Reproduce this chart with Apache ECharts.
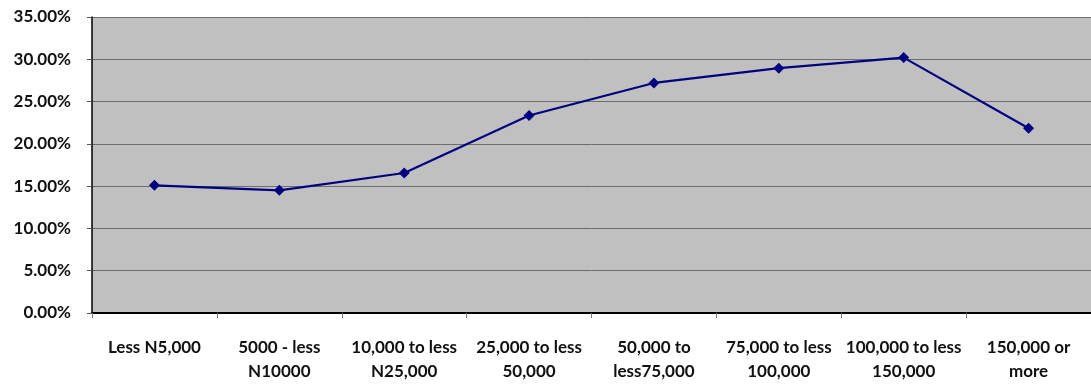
<!DOCTYPE html>
<html>
<head>
<meta charset="utf-8">
<style>
  html, body { margin: 0; padding: 0; background: #ffffff; }
  #chart { width: 1091px; height: 384px; }
</style>
<script src="https://cdn.jsdelivr.net/npm/echarts@6/dist/echarts.min.js"></script>
</head>
<body>
<div id="chart"></div>
<script>
// Income bands (two-line labels)
const categories = [
  'Less N5,000',
  '5000 - less\nN10000',
  '10,000 to less\nN25,000',
  '25,000 to less\n50,000',
  '50,000 to\nless75,000',
  '75,000 to less\n100,000',
  '100,000 to less\n150,000',
  '150,000 or\nmore'
];

// Share per band, in percent
const shares = [15.1, 14.5, 16.55, 23.35, 27.2, 28.95, 30.2, 21.85];

// Value axis range and step, in percent
const yMin = 0;
const yMax = 35;
const yStep = 5;

const labelFont = { fontFamily: 'Lato', fontWeight: 'bold', fontSize: 17, color: '#111111' };

const chart = echarts.init(document.getElementById('chart'), null, { renderer: 'canvas' });

chart.setOption({
  animation: false,
  backgroundColor: '#ffffff',
  grid: {
    left: 92,
    right: -4,
    top: 17,
    bottom: 70,
    show: true,
    backgroundColor: '#c0c0c0',
    borderWidth: 0
  },
  xAxis: {
    type: 'category',
    data: categories,
    boundaryGap: true,
    axisLine: { show: true, lineStyle: { color: '#000000', width: 2 } },
    axisTick: { show: true, length: 5, alignWithLabel: false, lineStyle: { color: '#777777', width: 1 } },
    axisLabel: Object.assign({}, labelFont, { margin: 23, lineHeight: 24, interval: 0, align: 'center' }),
    splitLine: { show: false }
  },
  yAxis: {
    type: 'value',
    min: yMin,
    max: yMax,
    interval: yStep,
    axisLine: { show: true, lineStyle: { color: '#000000', width: 1.5 } },
    axisTick: { show: true, length: 5, lineStyle: { color: '#555555', width: 1 } },
    axisLabel: Object.assign({}, labelFont, {
      margin: 21,
      formatter: v => v.toFixed(2) + '%'
    }),
    splitLine: { show: true, lineStyle: { color: '#6e6e6e', width: 1 } }
  },
  series: [{
    type: 'line',
    data: shares,
    symbol: 'diamond',
    symbolSize: 11,
    lineStyle: { color: '#000080', width: 2.2 },
    itemStyle: { color: '#000080' },
    z: 5
  }]
});
</script>
</body>
</html>
